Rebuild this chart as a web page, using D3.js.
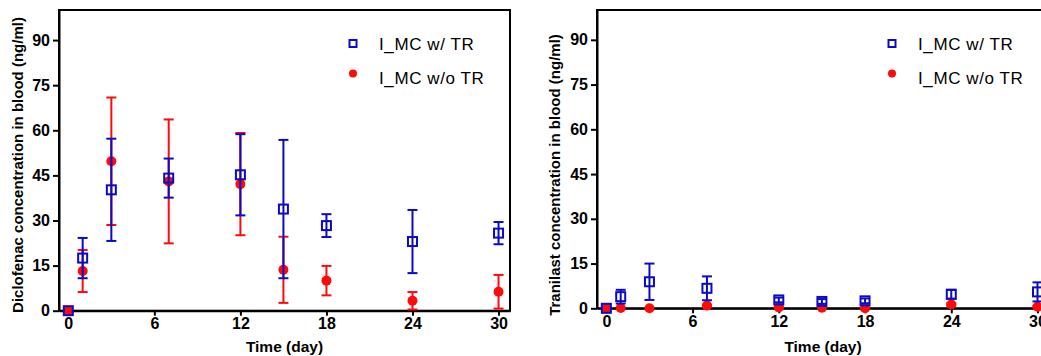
<!DOCTYPE html>
<html>
<head>
<meta charset="utf-8">
<script src="https://cdn.jsdelivr.net/npm/d3@7"></script>
<style>
  body { margin: 0; background: #fff; }
  svg { display: block; font-family: "Liberation Sans", Arial, sans-serif; }
</style>
</head>
<body>
<svg id="chart" width="1041" height="356"></svg>
<script>
// sampling days
const days = [0, 1, 3, 7, 12, 15, 18, 24, 30];
const yTicks = [0, 15, 30, 45, 60, 75, 90];
const xTicks = [0, 6, 12, 18, 24, 30];
const seriesNames = ["I_MC w/ TR", "I_MC w/o TR"];

// Diclofenac (mean, sd)
const diclWithMean = [0, 17.5, 40.2, 44.1, 45.2, 33.8, 28.3, 23.0, 25.8];
const diclWithSd = [0, 6.7, 17.0, 6.5, 13.5, 23.0, 3.8, 10.5, 3.7];
const diclWithoutMean = [0, 13.2, 49.7, 43.0, 42.1, 13.6, 10.0, 3.3, 6.3];
const diclWithoutSd = [0, 7.0, 21.2, 20.6, 17.0, 11.0, 4.9, 2.9, 5.6];

// Tranilast (mean, sd)
const tranWithMean = [0, 3.9, 8.9, 6.7, 2.8, 2.3, 2.5, 4.7, 5.5];
const tranWithSd = [0, 2.3, 6.1, 4.0, 0.8, 0.8, 0.8, 1.5, 3.2];
const tranWithoutMean = [0, 0.1, 0, 0.9, 0.3, 0.2, 0, 1.3, 0.5];
const tranWithoutSd = [0, 0.1, 0, 0.3, 0.2, 0.1, 0, 0.4, 0.3];

const BLUE = "#0a0ac8";
const RED = "#ff0a0a";

const svg = d3.select("#chart");

function drawPanel(opts) {
    let x = d3.scaleLinear().domain([-0.65, 30.8]).range([opts.left, opts.right]);
    let y = d3.scaleLinear().domain([0, 100]).range([opts.bottom, opts.top]);

    let g = svg.append("g");

    // frame
    g.append("rect")
        .attr("x", opts.left).attr("y", opts.top)
        .attr("width", opts.right - opts.left).attr("height", opts.bottom - opts.top)
        .attr("fill", "none").attr("stroke", "#000").attr("stroke-width", 2);

    let xAxis = g.append("g")
        .attr("transform", "translate(0," + opts.bottom + ")")
        .call(d3.axisBottom(x).tickValues(xTicks).tickSize(5).tickSizeOuter(0).tickPadding(2));

    let yAxis = g.append("g")
        .attr("transform", "translate(" + opts.left + ",0)")
        .call(d3.axisLeft(y).tickValues(yTicks).tickSize(6).tickSizeOuter(0).tickPadding(3));

    [xAxis, yAxis].forEach(function (a) {
        a.selectAll("path, line").attr("stroke", "#000").attr("stroke-width", 2);
        a.selectAll("text")
            .attr("fill", "#000")
            .style("font-size", "16px")
            .style("font-weight", "bold")
            .style("font-family", "'Liberation Sans', Arial, sans-serif");
    });

    // axis titles
    g.append("text")
        .attr("transform", "translate(" + opts.yTitleX + "," + opts.yTitleY + ") rotate(-90)")
        .attr("text-anchor", "middle")
        .style("font-size", "15px").style("font-weight", "bold")
        .text(opts.yTitle);

    g.append("text")
        .attr("x", (opts.left + opts.right) / 2).attr("y", 352)
        .attr("text-anchor", "middle")
        .style("font-size", "15.5px").style("font-weight", "bold")
        .text("Time (day)");

    let series = [
        {mean: opts.withoutMean, sd: opts.withoutSd, color: RED, shape: "circle"},
        {mean: opts.withMean, sd: opts.withSd, color: BLUE, shape: "square"}
    ];

    series.forEach(function (s) {
        let pts = days.map(function (d, i) { return {t: d, m: s.mean[i], sd: s.sd[i]}; });
        let bars = g.append("g").selectAll("g").data(pts.filter(function (p) { return p.sd > 0.15; }))
            .enter().append("g")
            .attr("stroke", s.color).attr("stroke-width", 2);
        bars.append("line")
            .attr("x1", function (p) { return x(p.t); }).attr("x2", function (p) { return x(p.t); })
            .attr("y1", function (p) { return y(p.m + p.sd); })
            .attr("y2", function (p) { return y(Math.max(0, p.m - p.sd)); });
        bars.append("line")
            .attr("x1", function (p) { return x(p.t) - 5; }).attr("x2", function (p) { return x(p.t) + 5; })
            .attr("y1", function (p) { return y(p.m + p.sd); }).attr("y2", function (p) { return y(p.m + p.sd); });
        bars.append("line")
            .attr("x1", function (p) { return x(p.t) - 5; }).attr("x2", function (p) { return x(p.t) + 5; })
            .attr("y1", function (p) { return y(Math.max(0, p.m - p.sd)); })
            .attr("y2", function (p) { return y(Math.max(0, p.m - p.sd)); });

        if (s.shape == "circle") {
            g.append("g").selectAll("circle").data(pts).enter().append("circle")
                .attr("cx", function (p) { return x(p.t); })
                .attr("cy", function (p) { return y(p.m); })
                .attr("r", 5)
                .attr("fill", s.color);
        } else {
            g.append("g").selectAll("rect").data(pts).enter().append("rect")
                .attr("x", function (p) { return x(p.t) - 4.5; })
                .attr("y", function (p) { return y(p.m) - 4.5; })
                .attr("width", 9).attr("height", 9)
                .attr("fill", "none")
                .attr("stroke", s.color).attr("stroke-width", 2);
        }
    });

    // legend
    let lg = g.append("g");
    lg.append("rect")
        .attr("x", opts.legendX - 3.5).attr("y", 43.5 - 3.5)
        .attr("width", 7).attr("height", 7)
        .attr("fill", "none").attr("stroke", BLUE).attr("stroke-width", 2);
    lg.append("circle")
        .attr("cx", opts.legendX).attr("cy", 73.5).attr("r", 4)
        .attr("fill", RED);
    lg.selectAll("text").data(seriesNames).enter().append("text")
        .attr("x", opts.legendX + 26)
        .attr("y", function (d, i) { return 50 + i * 34; })
        .style("font-size", "17px")
        .style("letter-spacing", "0.6px")
        .text(function (d) { return d; });
}

drawPanel({
    left: 59, right: 510, top: 10, bottom: 310.7,
    yTitle: "Diclofenac concentration in blood (ng/ml)", yTitleX: 23, yTitleY: 165,
    withMean: diclWithMean, withSd: diclWithSd,
    withoutMean: diclWithoutMean, withoutSd: diclWithoutSd,
    legendX: 353
});

drawPanel({
    left: 597, right: 1049, top: 10, bottom: 308.3,
    yTitle: "Tranilast concentration in blood (ng/ml)", yTitleX: 560, yTitleY: 175,
    withMean: tranWithMean, withSd: tranWithSd,
    withoutMean: tranWithoutMean, withoutSd: tranWithoutSd,
    legendX: 892
});
</script>
</body>
</html>
